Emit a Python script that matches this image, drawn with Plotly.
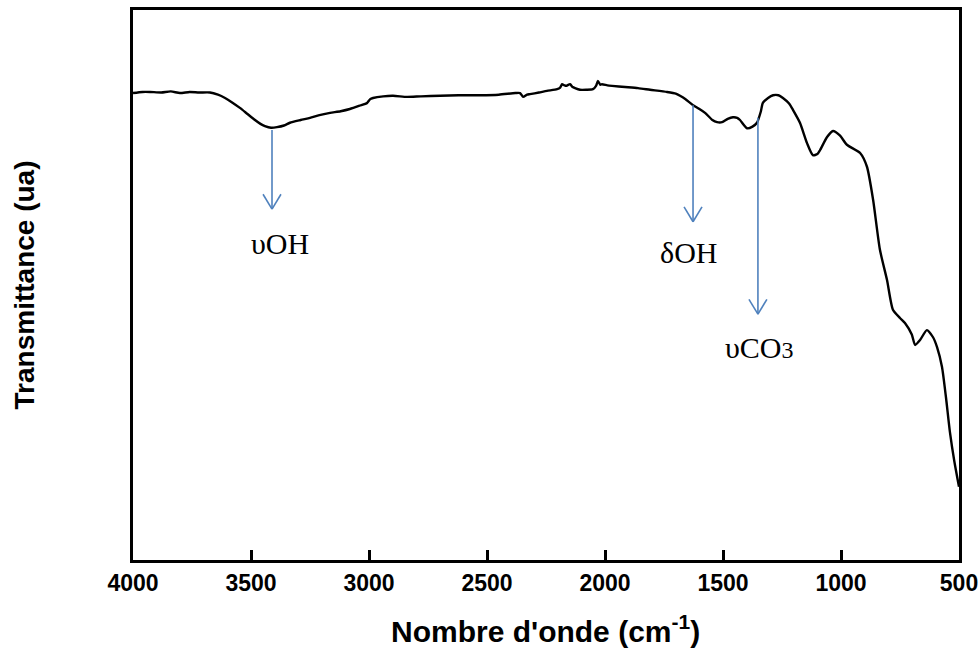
import plotly.graph_objects as go

# FTIR spectrum (wavenumber in cm-1, transmittance in arbitrary units)
wavenumber = [4000, 3960, 3928, 3880, 3840, 3801, 3760, 3720, 3674, 3640, 3610, 3580,
              3547, 3515, 3483, 3460, 3441, 3415, 3390, 3360, 3335, 3290, 3250, 3210,
              3165, 3120, 3081, 3040, 3008, 2995, 2983, 2940, 2898, 2839, 2780, 2699,
              2620, 2530, 2450, 2380, 2360, 2347, 2330, 2318, 2280, 2246, 2203, 2190,
              2182, 2172, 2165, 2148, 2137, 2127, 2106, 2080, 2051, 2038, 2030, 2020,
              2013, 1990, 1970, 1915, 1860, 1809, 1737, 1700, 1682, 1660, 1627, 1600,
              1576, 1545, 1525, 1504, 1480, 1458, 1440, 1428, 1398, 1375, 1356, 1340,
              1331, 1309, 1288, 1265, 1246, 1220, 1203, 1174, 1144, 1119, 1100, 1089,
              1059, 1034, 1005, 975, 919, 890, 864, 835, 805, 780, 750, 729,
              700, 686, 665, 636, 610, 593, 572, 555, 538, 520, 500]
transmittance = [84.9, 85.1, 85.1, 85.0, 85.2, 84.9, 85.1, 85.0, 85.0, 84.6, 84.0, 83.2,
                 82.2, 81.1, 80.0, 79.3, 78.9, 78.6, 78.7, 79.0, 79.5, 80.0, 80.4, 80.9,
                 81.3, 81.6, 82.0, 82.6, 83.1, 83.8, 84.0, 84.3, 84.4, 84.2, 84.3, 84.4,
                 84.5, 84.5, 84.6, 84.9, 84.9, 84.2, 84.6, 84.7, 85.0, 85.3, 85.6, 85.9,
                 86.5, 86.3, 86.2, 86.5, 86.0, 85.8, 85.5, 85.5, 85.6, 86.2, 87.1, 86.4,
                 86.5, 86.3, 86.2, 86.0, 85.8, 85.5, 85.1, 84.8, 84.4, 83.8, 82.7, 82.0,
                 81.3, 80.0, 79.6, 79.6, 80.2, 80.5, 80.4, 80.0, 78.5, 78.8, 79.5, 81.5,
                 83.1, 84.0, 84.5, 84.5, 84.0, 83.0, 81.8, 79.5, 75.8, 73.6, 73.8, 74.5,
                 76.9, 78.0, 77.2, 75.5, 74.0, 71.5, 65.5, 56.4, 50.9, 45.5, 44.0, 43.1,
                 41.0, 39.1, 40.0, 41.8, 40.5, 38.7, 35.1, 29.5, 23.1, 18.0, 13.3]

# Band assignments: label, band position, arrow tail value, arrow tip value
band_labels = ["υOH", "δOH", "υCO<span style='font-size:24px'>3</span>"]
band_position = [3411, 1627, 1352]
arrow_tail = [78.2, 82.7, 80.4]
arrow_tip = [63.8, 61.5, 44.7]
label_position = [3377, 1648, 1345]
label_value = [57.6, 55.9, 38.6]

X_RANGE = [4000, 500]
Y_RANGE = [0, 100]
tick_values = [4000, 3500, 3000, 2500, 2000, 1500, 1000, 500]

ARROW_COLOR = "#4F81BD"
head_dx = 38    # half width of the open arrowhead, cm-1
head_dy = 2.7   # arrowhead length, transmittance units
SANS = "Liberation Sans, Arial, sans-serif"

fig = go.Figure()
fig.add_trace(go.Scatter(
    x=wavenumber, y=transmittance, mode="lines",
    line=dict(color="black", width=2.4, shape="spline", smoothing=0.6),
    hoverinfo="skip", showlegend=False,
))

shapes = []
annotations = []
for lab, pos, tail, tip, lx, ly in zip(band_labels, band_position, arrow_tail,
                                       arrow_tip, label_position, label_value):
    shapes.append(dict(type="line", xref="x", yref="y", x0=pos, x1=pos, y0=tail, y1=tip,
                       line=dict(color=ARROW_COLOR, width=1.6)))
    for side in (-1, 1):
        shapes.append(dict(type="line", xref="x", yref="y", x0=pos, y0=tip,
                           x1=pos + side * head_dx, y1=tip + head_dy,
                           line=dict(color=ARROW_COLOR, width=1.6)))
    annotations.append(dict(x=lx, y=ly, xref="x", yref="y", text=lab, showarrow=False,
                            font=dict(family="Liberation Serif, Times New Roman, serif",
                                      size=30, color="black"),
                            xanchor="center", yanchor="middle"))

# x-axis title placed under the tick labels
annotations.append(dict(x=0.499, y=-0.1255, xref="paper", yref="paper",
                        text="<b>Nombre d'onde (cm<sup>-1</sup>)</b>", showarrow=False,
                        xanchor="center", yanchor="middle",
                        font=dict(family=SANS, size=30, color="black")))

fig.update_layout(
    width=979, height=648,
    margin=dict(l=133, r=20, t=10, b=88),
    paper_bgcolor="white", plot_bgcolor="white",
    shapes=shapes, annotations=annotations,
    xaxis=dict(
        range=X_RANGE, tickvals=tick_values, ticktext=[str(v) for v in tick_values],
        ticks="inside", ticklen=10, tickwidth=2.5, tickcolor="black",
        showline=True, linewidth=3, linecolor="black", mirror=True,
        showgrid=False, zeroline=False,
        tickfont=dict(family=SANS, size=23, color="black", weight="bold"),
        ticklabelstandoff=0,
        automargin=False,
    ),
    yaxis=dict(
        range=Y_RANGE, showticklabels=False, ticks="",
        showline=True, linewidth=3, linecolor="black", mirror=True,
        showgrid=False, zeroline=False,
        title=dict(text="<b>Transmittance (ua)</b>", standoff=88,
                   font=dict(family=SANS, size=28, color="black")),
        automargin=False,
    ),
)

fig.write_html("out.html")
